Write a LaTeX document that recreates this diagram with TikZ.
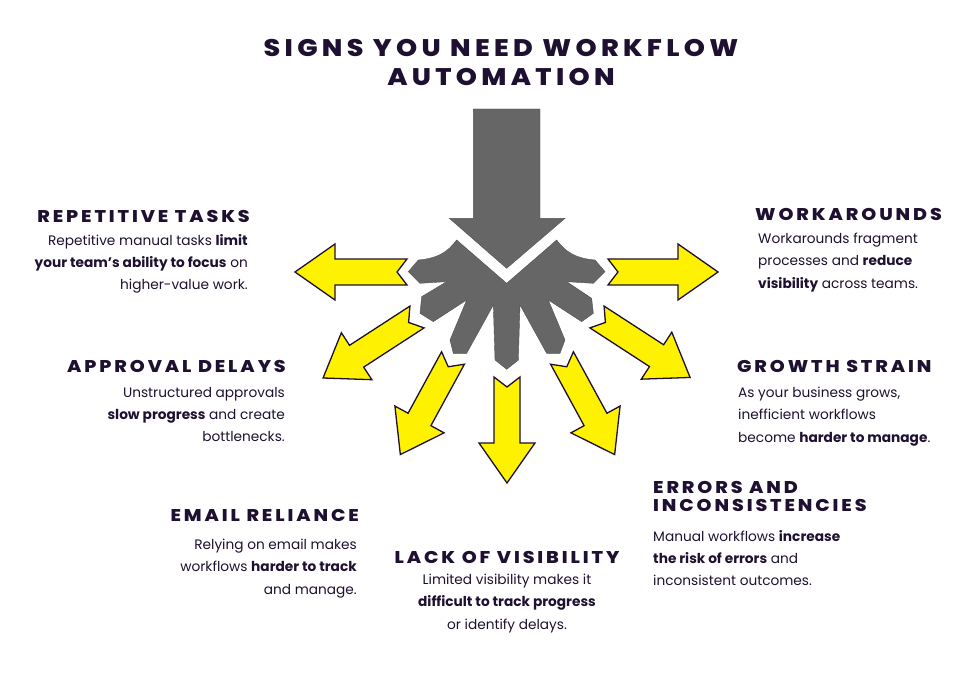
\documentclass[tikz,border=0pt]{standalone}
\usepackage{fontspec}
\setmainfont{Poppins}
\newfontfamily\headfont[LetterSpace=17,FakeStretch=1.12]{Poppins ExtraBold}
\newfontfamily\titlefont[LetterSpace=18,FakeStretch=1.12]{Poppins ExtraBold}
\definecolor{ink}{HTML}{1E1030}
\definecolor{hubgray}{HTML}{666666}
\definecolor{yel}{HTML}{FFF200}
\newcommand\yarr[5]{%
\begin{scope}[shift={(#1,694-#2)},rotate=#3]
\draw[yarrow] (0,13) -- (#4-40,13) -- (#4-40,28) -- (#4,0) -- (#4-40,-28) -- (#4-40,-13) -- (0,-13) -- (10,0) -- cycle;
\coordinate (#5) at (#4,0);
\end{scope}}
\begin{document}
\begin{tikzpicture}[x=1pt,y=1pt,
 yarrow/.style={fill=yel,draw=ink,line width=1.3pt,line join=miter},
 hub/.style={fill=hubgray,draw=hubgray!80!black,line width=0.4pt},
 head/.style={font=\headfont\fontsize{17}{18}\selectfont,text=ink,inner sep=0pt},
 body/.style={font=\fontsize{13.7}{22.3}\selectfont,text=ink,inner sep=0pt},
]
\useasboundingbox (0,0) rectangle (980,694);
\node[font=\titlefont\fontsize{24}{29}\selectfont,text=ink,align=center,inner sep=0pt] (title) at (501,694-62) {SIGNS YOU NEED WORKFLOW\\AUTOMATION};
% grey shapes
\begin{scope}[shift={(280,594)},xscale=1/3,yscale=-1/3]
\draw[hub] (580,27) -- (780,27) -- (780,355) -- (855,355) -- (680,505) -- (508,355) -- (580,355) -- cycle;
\draw[hub] (680,550) -- (530,420) .. controls (500,460) and (470,475) .. (415,480) -- (385,515) -- (420,550) -- (500,545) -- (425,590) -- (420,640) -- (460,665) -- (560,600) -- (510,720) -- (520,760) -- (560,760) -- (640,615) -- (645,780) -- (680,808) -- (715,780) -- (720,615) -- (800,760) -- (840,760) -- (855,720) -- (805,600) -- (905,665) -- (940,640) -- (935,595) -- (860,545) -- (940,550) -- (975,515) -- (945,480) .. controls (890,475) and (860,460) .. (830,420) -- cycle;
\end{scope}
\yarr{407}{272}{180}{112}{a1}
\yarr{608}{272}{0}{110}{a2}
\yarr{417}{317}{213}{112}{a3}
\yarr{597}{317}{-33}{111}{a4}
\yarr{453}{358}{241.4}{110}{a5}
\yarr{562}{358}{-61.4}{110}{a6}
\yarr{507}{377}{-90}{106}{a7}
% left texts
\node[head,anchor=base east] (h1) at (250,694-223) {REPETITIVE TASKS};
\node[body,anchor=north east,align=right] (b1) at (248,694-234) {Repetitive manual tasks \textbf{limit}\\\textbf{your team’s ability to focus} on\\higher-value work.};
\node[head,anchor=base east] (h2) at (286,694-373) {APPROVAL DELAYS};
\node[body,anchor=north east,align=right] (b2) at (285,694-387) {Unstructured approvals\\\textbf{slow progress} and create\\bottlenecks.};
\node[head,anchor=base east] (h3) at (359,694-522) {EMAIL RELIANCE};
\node[body,anchor=north east,align=right] (b3) at (357,694-539) {Relying on email makes\\workflows \textbf{harder to track}\\and manage.};
\node[head,anchor=base] (h4) at (507,694-563) {LACK OF VISIBILITY};
\node[body,anchor=north,align=center] (b4) at (507,694-574) {Limited visibility makes it\\\textbf{difficult to track progress}\\or identify delays.};
% right texts
\node[head,anchor=base west] (h5) at (755,694-221) {WORKAROUNDS};
\node[body,anchor=north west,align=left] (b5) at (758,694-233) {Workarounds fragment\\processes and \textbf{reduce}\\\textbf{visibility} across teams.};
\node[head,anchor=base west] (h6) at (737,694-373) {GROWTH STRAIN};
\node[body,anchor=north west,align=left] (b6) at (738,694-387) {As your business grows,\\inefficient workflows\\become \textbf{harder to manage}.};
\node[head,anchor=north west,align=left,font=\headfont\fontsize{17}{18.5}\selectfont] (h7) at (653,694-481) {ERRORS AND\\INCONSISTENCIES};
\node[body,anchor=north west,align=left] (b7) at (653,694-530) {Manual workflows \textbf{increase}\\\textbf{the risk of errors} and\\inconsistent outcomes.};
\end{tikzpicture}
\end{document}
